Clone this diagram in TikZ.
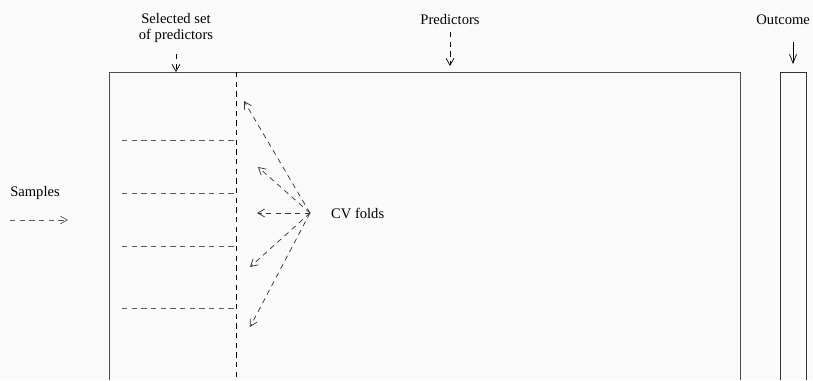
\documentclass[tikz,border=0pt]{standalone}
\usepackage{fontspec}
\setmainfont{Liberation Serif}
\usetikzlibrary{arrows.meta}
\begin{document}
\begin{tikzpicture}[x=0.02cm, y=-0.02cm,
        lbl/.style={font=\fontsize{8.3}{9.6}\selectfont, align=center, inner sep=1pt},
        ptr/.style={dashed, dash pattern=on 3pt off 2.5pt, -{Straight Barb[length=4pt, width=4.5pt]}},
        fold/.style={gray!70!black, dashed, dash pattern=on 3pt off 2.5pt}]
        \fill[black!2] (0, 0) rectangle (813, 380);
        \useasboundingbox (0, 0) rectangle (813, 380);
        % data matrix and outcome column
        \draw[gray!60!black] (109, 380) -- (109, 72) -- (740, 72) -- (740, 380);
        \draw[black!80] (780, 380) -- (780, 72) -- (806, 72) -- (806, 380);
        \draw[dashed, dash pattern=on 3pt off 2.5pt] (236, 72) -- (236, 380);
        \foreach \y in {140, 193, 246, 308} {
            \draw[fold] (122, \y) -- (236, \y);
        }
        % labels
        \node[lbl] (sel) at (176, 28) {Selected set\\of predictors};
        \node[lbl] (pred) at (450, 20) {Predictors};
        \node[lbl, anchor=east] (out) at (812, 20) {Outcome};
        \node[lbl] (samp) at (35, 193) {Samples};
        \node[lbl, anchor=west] (cv) at (329, 213) {CV folds};
        \coordinate (sels) at (176, 54);
        \coordinate (selend) at (176, 72);
        \coordinate (preds) at (450, 32);
        \coordinate (predend) at (450, 66);
        \coordinate (outs) at (793, 42);
        \coordinate (outend) at (793, 64);
        \coordinate (sampa) at (10, 220);
        \coordinate (sampb) at (68, 220);
        \coordinate (hub) at (310, 213);
        \draw[ptr] (sels) -- (selend);
        \draw[ptr] (preds) -- (predend);
        \draw[-{Straight Barb[length=5pt, width=4pt]}] (outs) -- (outend);
        \draw[ptr, gray!70!black] (sampa) -- (sampb);
        \foreach \x\y in {244/101, 258/167, 257/213, 250/267, 250/327} {
            \coordinate (f) at (\x, \y);
            \draw[ptr, black!80] (hub) -- (f);
        }
    \end{tikzpicture}
\end{document}
